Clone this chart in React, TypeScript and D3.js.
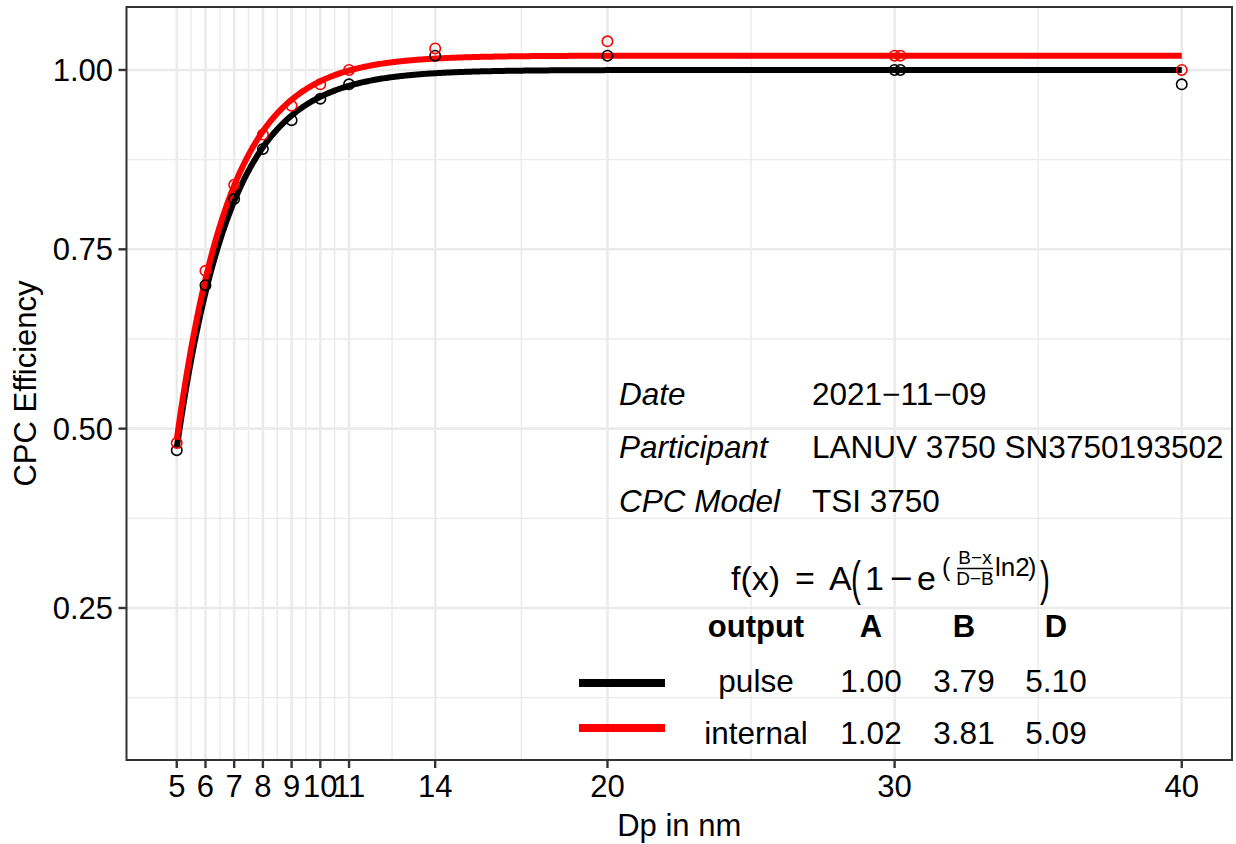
import React from "react";
import * as d3 from "d3";

const W = 1236;
const H = 844;

const dp = [5, 6, 7, 8, 9, 10, 11, 14, 20, 30, 30.2, 40];
const pulse = [0.47, 0.7, 0.82, 0.89, 0.93, 0.96, 0.98, 1.02, 1.02, 1.0, 1.0, 0.98];
const internal = [0.48, 0.72, 0.84, 0.91, 0.95, 0.98, 1.0, 1.03, 1.04, 1.02, 1.02, 1.0];

const outputs = ["pulse", "internal"];
const colors = ["#000000", "#FF0000"];
const paramA = [1.0, 1.02];
const paramB = [3.79, 3.81];
const paramD = [5.1, 5.09];

const xBreaks = [5, 6, 7, 8, 9, 10, 11, 14, 20, 30, 40];
const xMinor = [5.5, 6.5, 7.5, 8.5, 9.5, 10.5, 12.5, 17, 25, 35];
const yBreaks = [0.25, 0.5, 0.75, 1.0];
const yMinor = [0.125, 0.375, 0.625, 0.875];

const infoLabels = ["Date", "Participant", "CPC Model"];
const infoValues = ["2021\u221211\u221209", "LANUV 3750 SN3750193502", "TSI 3750"];
const tableHeader = ["output", "A", "B", "D"];

const FONT = "'Liberation Sans', Arial, Helvetica, sans-serif";

const panel = { left: 126.5, right: 1232, top: 7, bottom: 760 };

export default function App() {
  const x = d3.scaleLinear().domain([3.25, 41.75]).range([panel.left, panel.right]);
  const y = d3.scaleLinear().domain([0.0381, 1.0878]).range([panel.bottom, panel.top]);

  const series = [pulse, internal];
  const fit = (i: number, v: number) =>
    paramA[i] * (1 - Math.exp(((paramB[i] - v) / (paramD[i] - paramB[i])) * Math.LN2));
  const xs = d3.range(5, 40.0001, 0.05);

  const colX = [756, 871, 964, 1056];
  const rowY = [692, 744];
  const keyY = [683, 728];

  return (
    <svg width={W} height={H} style={{ display: "block", position: "absolute", left: 0, top: 0 }} fontFamily={FONT}>
      <rect x={0} y={0} width={W} height={H} fill="#fff" />
      {/* grid */}
      <g>
        {yMinor.map((v) => (
          <line key={"ym" + v} x1={panel.left} x2={panel.right} y1={y(v)} y2={y(v)} stroke="#EBEBEB" strokeWidth={1.4} />
        ))}
        {xMinor.map((v) => (
          <line key={"xm" + v} y1={panel.top} y2={panel.bottom} x1={x(v)} x2={x(v)} stroke="#EBEBEB" strokeWidth={1.4} />
        ))}
        {yBreaks.map((v) => (
          <line key={"yM" + v} x1={panel.left} x2={panel.right} y1={y(v)} y2={y(v)} stroke="#EBEBEB" strokeWidth={2.6} />
        ))}
        {xBreaks.map((v) => (
          <line key={"xM" + v} y1={panel.top} y2={panel.bottom} x1={x(v)} x2={x(v)} stroke="#EBEBEB" strokeWidth={2.6} />
        ))}
      </g>
      {/* fitted curves */}
      {outputs.map((o, i) => (
        <path
          key={"fit" + o}
          d={d3.line<number>().x((d) => x(d)).y((d) => y(fit(i, d)))(xs) || ""}
          fill="none"
          stroke={colors[i]}
          strokeWidth={6}
        />
      ))}
      {/* points */}
      {series.map((s, i) =>
        s.map((v, j) => (
          <circle key={"p" + i + "-" + j} cx={x(dp[j])} cy={y(v)} r={5.2} fill="none" stroke={colors[i]} strokeWidth={1.6} />
        ))
      )}
      {/* info annotations */}
      {infoLabels.map((t, i) => (
        <g key={"info" + i}>
          <text x={619} y={405 + i * 53.3} fontSize={31.5} fontStyle="italic">
            {t}
          </text>
          <text x={812} y={405 + i * 53.3} fontSize={31.5}>
            {infoValues[i]}
          </text>
        </g>
      ))}
      {/* formula */}
      <g fontSize={34}>
        <text x={731} y={590}>f(x)</text>
        <text x={795} y={590}>=</text>
        <text x={829} y={590}>A</text>
        <text transform="translate(851,595) scale(0.62,1)" fontSize={48}>(</text>
        <text x={865} y={590}>1</text>
        <text x={890} y={590} transform="translate(890,0) scale(1.15,1) translate(-890,0)">{"\u2212"}</text>
        <text x={917} y={590}>e</text>
        <text x={942} y={576} fontSize={25}>(</text>
        <text x={975} y={564} fontSize={19} textAnchor="middle">{"B\u2212x"}</text>
        <line x1={957} x2={993} y1={568.5} y2={568.5} stroke="#000" strokeWidth={1.3} />
        <text x={975} y={585} fontSize={19} textAnchor="middle">{"D\u2212B"}</text>
        <text x={995} y={576} fontSize={26}>ln2</text>
        <text x={1028} y={576} fontSize={25}>)</text>
        <text transform="translate(1040,595) scale(0.62,1)" fontSize={48}>)</text>
      </g>
      {/* table */}
      {tableHeader.map((h, k) => (
        <text key={"th" + h} x={colX[k]} y={637} fontSize={31} fontWeight="bold" textAnchor="middle">
          {h}
        </text>
      ))}
      {outputs.map((o, i) => (
        <g key={"row" + o}>
          <line x1={579} x2={665} y1={keyY[i]} y2={keyY[i]} stroke={colors[i]} strokeWidth={8} />
          <text x={colX[0]} y={rowY[i]} fontSize={31.5} textAnchor="middle">{o}</text>
          <text x={colX[1]} y={rowY[i]} fontSize={31.5} textAnchor="middle">{paramA[i].toFixed(2)}</text>
          <text x={colX[2]} y={rowY[i]} fontSize={31.5} textAnchor="middle">{paramB[i].toFixed(2)}</text>
          <text x={colX[3]} y={rowY[i]} fontSize={31.5} textAnchor="middle">{paramD[i].toFixed(2)}</text>
        </g>
      ))}
      {/* panel border */}
      <rect
        x={panel.left}
        y={panel.top}
        width={panel.right - panel.left}
        height={panel.bottom - panel.top}
        fill="none"
        stroke="#333333"
        strokeWidth={2}
      />
      {/* x axis */}
      {xBreaks.map((v) => (
        <g key={"xt" + v}>
          <line x1={x(v)} x2={x(v)} y1={panel.bottom} y2={panel.bottom + 8} stroke="#333333" strokeWidth={2.4} />
          <text x={x(v)} y={797} fontSize={31} textAnchor="middle">
            {v}
          </text>
        </g>
      ))}
      {/* y axis */}
      {yBreaks.map((v) => (
        <g key={"yt" + v}>
          <line x1={panel.left - 8} x2={panel.left} y1={y(v)} y2={y(v)} stroke="#333333" strokeWidth={2.4} />
          <text x={113} y={y(v) + 11} fontSize={31} textAnchor="end">
            {v.toFixed(2)}
          </text>
        </g>
      ))}
      <text x={(panel.left + panel.right) / 2} y={836} fontSize={31} textAnchor="middle">
        Dp in nm
      </text>
      <text transform={`translate(36,${(panel.top + panel.bottom) / 2}) rotate(-90)`} fontSize={31} textAnchor="middle">
        CPC Efficiency
      </text>
    </svg>
  );
}
